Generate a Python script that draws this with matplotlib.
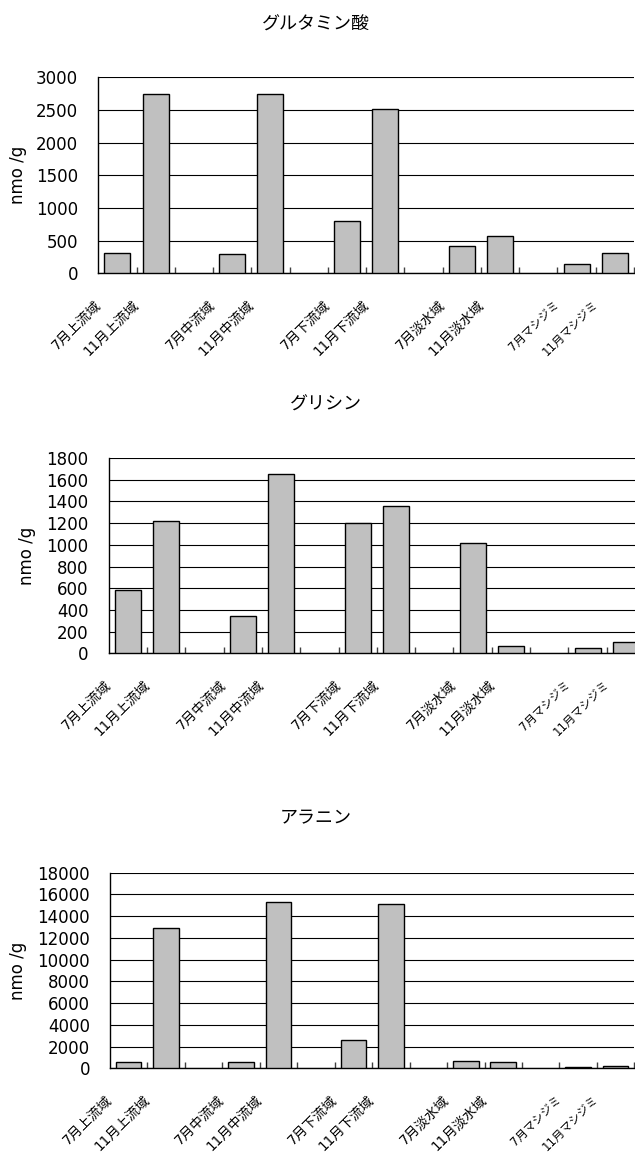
import numpy as np
import matplotlib
matplotlib.use("Agg")
import matplotlib.pyplot as plt
from matplotlib.transforms import ScaledTranslation

# ---- data ----
categories = ['7月上流域', '11月上流域', '', '7月中流域', '11月中流域', '',
              '7月下流域', '11月下流域', '', '7月淡水域', '11月淡水域', '',
              '7月マシジミ', '11月マシジミ']
nan = np.nan
glutamic = [311, 2740, nan, 291, 2740, nan, 800, 2515, nan, 418, 576, nan, 138, 316]
glycine = [580, 1220, nan, 345, 1655, nan, 1200, 1360, nan, 1015, 65, nan, 50, 105]
alanine = [550, 12950, nan, 550, 15300, nan, 2650, 15100, nan, 650, 550, nan, 150, 250]
titles = ['グルタミン酸', 'グリシン', 'アラニン']
ylabel = 'nmo /g'
yticks_glu = [0, 500, 1000, 1500, 2000, 2500, 3000]
yticks_gly = [0, 200, 400, 600, 800, 1000, 1200, 1400, 1600, 1800]
yticks_ala = [0, 2000, 4000, 6000, 8000, 10000, 12000, 14000, 16000, 18000]

FAM = ['DejaVu Sans', 'Noto Sans CJK JP']
W, H = 635, 1156
DPI = 100
fig = plt.figure(figsize=(W / DPI, H / DPI), dpi=DPI)

# panel layout in pixels: left, right, top, bottom, title (x, y), ylabel x
panels = [
    dict(vals=glutamic, ticks=yticks_glu, l=98.3, r=634.0, t=77.3, b=273.3,
         tx=316, ty=25, yx=18),
    dict(vals=glycine, ticks=yticks_gly, l=108.7, r=645.0, t=458.0, b=653.3,
         tx=326, ty=405, yx=27),
    dict(vals=alanine, ticks=yticks_ala, l=110.0, r=634.3, t=872.7, b=1068.3,
         tx=316, ty=818, yx=18),
]

x = np.arange(len(categories))
for p, title in zip(panels, titles):
    ax = fig.add_axes([p['l'] / W, 1 - p['b'] / H, (p['r'] - p['l']) / W, (p['b'] - p['t']) / H])
    vals = np.array(p['vals'], dtype=float)
    m = ~np.isnan(vals)
    ax.bar(x[m], vals[m], width=0.68, color='#c0c0c0', edgecolor='black',
           linewidth=1.0, zorder=3)
    ax.set_xlim(-0.5, len(categories) - 0.5)
    ax.set_ylim(p['ticks'][0], p['ticks'][-1])
    ax.set_yticks(p['ticks'])
    ax.set_yticklabels([str(v) for v in p['ticks']], family=FAM, fontsize=12)
    ax.tick_params(axis='y', length=0, pad=14.4)
    ax.yaxis.grid(True, color='black', linewidth=0.8, zorder=0)
    ax.set_axisbelow(True)
    for s in ['top', 'right']:
        ax.spines[s].set_visible(False)
    ax.spines['left'].set_linewidth(1.0)
    ax.spines['bottom'].set_linewidth(1.0)
    # category labels
    ax.set_xticks(x)
    ax.set_xticklabels(categories, family=FAM, fontsize=9.8, rotation=45,
                       ha='right', va='center', rotation_mode='anchor')
    ax.tick_params(axis='x', which='major', length=0, pad=0)
    off = ScaledTranslation(-19 / DPI, -29 / DPI, fig.dpi_scale_trans)
    for lab in ax.get_xticklabels():
        lab.set_transform(lab.get_transform() + off)
        if 'マ' in lab.get_text():
            lab.set_fontsize(8.4)   # narrow (proportional) kana in the original
    # tick marks between categories
    ax.set_xticks(np.arange(0.5, len(categories), 1.0), minor=True)
    ax.tick_params(axis='x', which='minor', direction='in', length=4, width=1,
                   color='#404040')
    fig.text(p['tx'] / W, 1 - p['ty'] / H, title, family=['Noto Sans CJK JP'],
             fontsize=13, ha='center', va='center')
    fig.text(p['yx'] / W, 1 - (p['t'] + p['b']) / 2 / H, ylabel, family=FAM,
             fontsize=12, rotation=90, ha='center', va='center')

fig.savefig('out.png', dpi=DPI)
